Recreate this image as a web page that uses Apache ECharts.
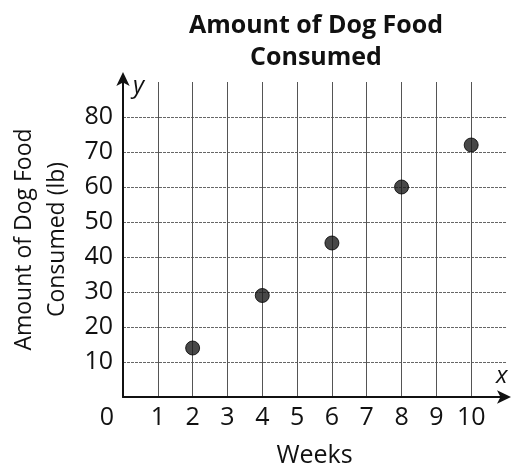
<!DOCTYPE html>
<html>
<head>
<meta charset="utf-8">
<script src="https://cdn.jsdelivr.net/npm/echarts@6/dist/echarts.min.js"></script>
<style>
  html, body { margin: 0; padding: 0; background: #fff; }
  #main { width: 513px; height: 466px; }
</style>
</head>
<body>
<div id="main"></div>
<script>
// data
const weeks = [2, 4, 6, 8, 10];
const foodLb = [14, 29, 44, 60, 72];

const FONT = "Open Sans";
const INK = "#111";

const chart = echarts.init(document.getElementById("main"));

chart.setOption({
  animation: false,
  title: {
    text: "Amount of Dog Food\nConsumed",
    left: 311,
    top: 5,
    textAlign: "center",
    textStyle: {
      fontFamily: FONT,
      fontWeight: "bold",
      fontSize: 25,
      lineHeight: 32,
      color: INK,
    },
  },
  grid: {
    left: 123,
    right: 7,
    top: 82,
    bottom: 69,
    outerBoundsMode: "none", // keep grid where it is, labels may sit outside
  },
  xAxis: {
    type: "value",
    min: 0,
    max: 11,
    interval: 1,
    name: "Weeks",
    nameLocation: "middle",
    nameGap: 46,
    nameTextStyle: { fontFamily: FONT, fontSize: 25, color: INK },
    axisLine: {
      show: true,
      symbol: ["none", "arrow"],
      symbolSize: [10, 14],
      symbolOffset: [0, 5],
      lineStyle: { color: INK, width: 2 },
    },
    axisTick: { show: false },
    axisLabel: {
      margin: 8,
      fontFamily: FONT,
      fontSize: 25,
      color: INK,
      showMaxLabel: false,
      formatter: (v) => (v === 0 ? "{z|0}" : String(v)),
      rich: {
        z: { fontFamily: FONT, fontSize: 25, color: INK, padding: [0, 32, 0, 0] },
      },
    },
    splitLine: {
      show: true,
      showMinLine: false,
      showMaxLine: false,
      lineStyle: { color: "#555", width: 1 },
    },
  },
  yAxis: {
    type: "value",
    min: 0,
    max: 90,
    interval: 10,
    name: "Amount of Dog Food\nConsumed (lb)",
    nameLocation: "middle",
    nameRotate: 90,
    nameGap: 49,
    nameTextStyle: { fontFamily: FONT, fontSize: 23, lineHeight: 33, color: INK },
    axisLine: {
      show: true,
      symbol: ["none", "arrow"],
      symbolSize: [10, 14],
      symbolOffset: [0, 10],
      lineStyle: { color: INK, width: 2 },
    },
    axisTick: { show: false },
    axisLabel: {
      margin: 10,
      fontFamily: FONT,
      fontSize: 25,
      color: INK,
      showMinLabel: false,
      showMaxLabel: false,
    },
    splitLine: {
      show: true,
      showMinLine: false,
      showMaxLine: false,
      lineStyle: { color: "#666", width: 1, type: [3, 1] },
    },
  },
  graphic: [
    {
      type: "text",
      left: 133,
      top: 74,
      style: { text: "y", fontFamily: FONT, fontStyle: "italic", fontSize: 24, fill: INK },
    },
    {
      type: "text",
      left: 496,
      top: 364,
      style: { text: "x", fontFamily: FONT, fontStyle: "italic", fontSize: 24, fill: INK },
    },
  ],
  series: [
    {
      type: "scatter",
      data: weeks.map((w, i) => [w, foodLb[i]]),
      symbol: "circle",
      symbolSize: 14,
      itemStyle: { color: "#1a1a1a", borderColor: "#000", borderWidth: 1 },
    },
  ],
});
</script>
</body>
</html>
